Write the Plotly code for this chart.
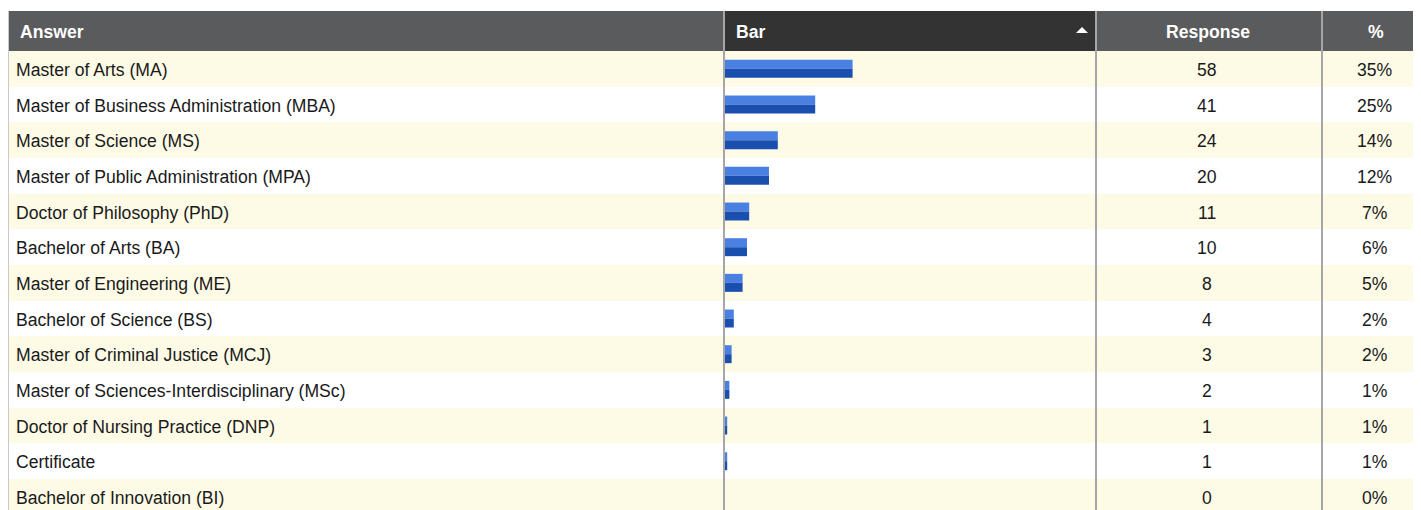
import plotly.graph_objects as go

answers = [
    "Master of Arts (MA)",
    "Master of Business Administration (MBA)",
    "Master of Science (MS)",
    "Master of Public Administration (MPA)",
    "Doctor of Philosophy (PhD)",
    "Bachelor of Arts (BA)",
    "Master of Engineering (ME)",
    "Bachelor of Science (BS)",
    "Master of Criminal Justice (MCJ)",
    "Master of Sciences-Interdisciplinary (MSc)",
    "Doctor of Nursing Practice (DNP)",
    "Certificate",
    "Bachelor of Innovation (BI)",
]
responses = [58, 41, 24, 20, 11, 10, 8, 4, 3, 2, 1, 1, 0]
percents = ["35%", "25%", "14%", "12%", "7%", "6%", "5%", "2%", "2%", "1%", "1%", "1%", "0%"]
headers = ["Answer", "Bar", "Response", "%"]

PAGE_W, PAGE_H = 1421, 510
OFF = 8  # body margin of the page
W, H = PAGE_W - OFF, PAGE_H - OFF
FONT = "Liberation Sans, Arial, sans-serif"
FS = 17.6


def px(x):
    return (x - OFF) / W


def py(y):
    return 1 - (y - OFF) / H


HEADER_TOP, HEADER_BOT = 11, 51
COL_BAR_L, COL_RESP_L, COL_PCT_L = 724, 1096, 1322
TABLE_L = 8

fig = go.Figure()

half = 0.252
fig.add_trace(go.Bar(
    y=answers, x=responses, orientation="h",
    base=0, width=half, offset=-half,
    marker=dict(color="#4a80e2", line=dict(width=0)),
    hoverinfo="skip", showlegend=False,
))
fig.add_trace(go.Bar(
    y=answers, x=responses, orientation="h",
    base=0, width=half, offset=0,
    marker=dict(color="#1a4fb0", line=dict(width=0)),
    hoverinfo="skip", showlegend=False,
))

shapes = []
annotations = []

# row backgrounds
for i, a in enumerate(answers):
    if i % 2 == 0:
        shapes.append(dict(type="rect", xref="paper", yref="y",
                           x0=px(TABLE_L), x1=1, y0=i - 0.5, y1=i + 0.5,
                           fillcolor="#fdfae6", line=dict(width=0), layer="below"))

# header backgrounds
shapes.append(dict(type="rect", xref="paper", yref="paper",
                   x0=px(TABLE_L), x1=1, y0=py(HEADER_BOT), y1=py(HEADER_TOP),
                   fillcolor="#5a5b5d", line=dict(width=0), layer="below"))
shapes.append(dict(type="rect", xref="paper", yref="paper",
                   x0=px(COL_BAR_L), x1=px(COL_RESP_L), y0=py(HEADER_BOT), y1=py(HEADER_TOP),
                   fillcolor="#333333", line=dict(width=0), layer="below"))

# sort triangle
shapes.append(dict(type="path", xref="paper", yref="paper",
                   path=f"M {px(1076)},{py(33)} L {px(1088)},{py(33)} L {px(1082)},{py(27)} Z",
                   fillcolor="#ffffff", line=dict(width=0)))

# vertical borders
for x, c, w in [(TABLE_L + 0.5, "#c8c8c8", 1), (COL_BAR_L, "#a6a6a6", 2),
                (COL_RESP_L, "#a6a6a6", 2), (COL_PCT_L, "#a6a6a6", 2)]:
    shapes.append(dict(type="line", xref="paper", yref="paper",
                       x0=px(x), x1=px(x), y0=0, y1=py(HEADER_TOP),
                       line=dict(color=c, width=w), layer="above"))

# header texts
hdr_y = py((HEADER_TOP + HEADER_BOT) / 2)
for text, x, anchor in [(headers[0], 18, "left"), (headers[1], 734, "left"),
                        (headers[2], 1208, "center"), (headers[3], 1376, "center")]:
    annotations.append(dict(text=text, xref="paper", yref="paper", x=px(x), y=hdr_y,
                            xanchor=anchor, yanchor="middle", showarrow=False, yshift=-1,
                            font=dict(family=FONT, size=FS, color="#ffffff", weight="bold")))

# row texts
for a, r, p in zip(answers, responses, percents):
    annotations.append(dict(text=a, xref="paper", yref="y", x=px(14), y=a,
                            xanchor="left", yanchor="middle", showarrow=False, yshift=-1,
                            font=dict(family=FONT, size=FS, color="#1a1a1a")))
    annotations.append(dict(text=str(r), xref="paper", yref="y", x=px(1207), y=a,
                            xanchor="center", yanchor="middle", showarrow=False, yshift=-1,
                            font=dict(family=FONT, size=FS, color="#1a1a1a")))
    annotations.append(dict(text=p, xref="paper", yref="y", x=px(1375), y=a,
                            xanchor="center", yanchor="middle", showarrow=False, yshift=-1,
                            font=dict(family=FONT, size=FS, color="#1a1a1a")))

row_h = 35.67
n_units = (PAGE_H - HEADER_BOT) / row_h

fig.update_layout(
    width=W, height=H,
    margin=dict(l=0, r=0, t=0, b=0),
    paper_bgcolor="#ffffff", plot_bgcolor="rgba(0,0,0,0)",
    barmode="overlay",
    shapes=shapes, annotations=annotations,
    xaxis=dict(domain=[px(COL_BAR_L), px(COL_RESP_L)],
               range=[-1 / 2.2, (COL_RESP_L - 725) / 2.2],
               visible=False, showgrid=False, zeroline=False, fixedrange=True),
    yaxis=dict(domain=[0, py(HEADER_BOT)], type="category",
               categoryorder="array", categoryarray=answers,
               range=[n_units - 0.5, -0.5],
               visible=False, showgrid=False, zeroline=False, fixedrange=True),
)

fig.write_html("out.html", config={"displayModeBar": False})
